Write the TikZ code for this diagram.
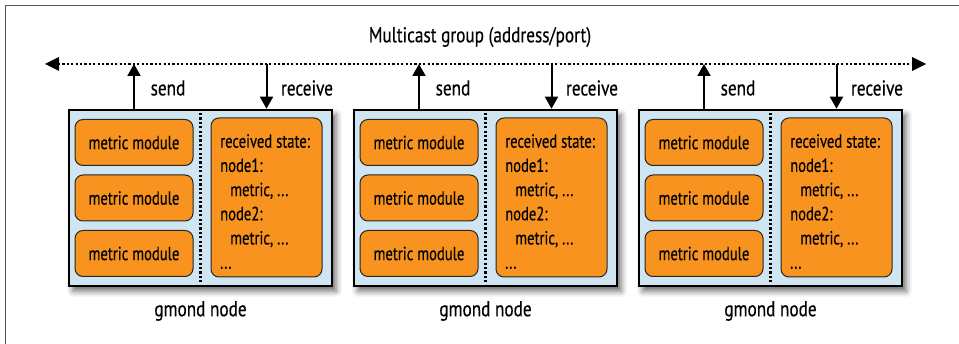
\documentclass[tikz,border=0pt]{standalone}
\usepackage{fontspec}
\setmainfont{PT Sans}[FakeStretch=0.77,FakeBold=0.3]
\newfontfamily\lblfont{PT Sans}[FakeStretch=0.8,FakeBold=0.3]
\usetikzlibrary{arrows.meta,shadows.blur}
\definecolor{boxblue}{HTML}{D0E5F2}
\definecolor{modorange}{HTML}{F7931E}
\definecolor{framegray}{HTML}{555555}
\begin{document}
\begin{tikzpicture}[x=1pt,y=-1pt,
  gbox/.style={draw=black, line width=2.6pt, fill=boxblue, minimum width=263pt, minimum height=176pt, inner sep=0pt,
    blur shadow={shadow xshift=4pt, shadow yshift=-5pt, shadow blur radius=6pt, shadow opacity=60}},
  modbox/.style={draw=black!85, line width=1pt, fill=modorange, rounded corners=8pt, minimum width=118pt, minimum height=46pt, inner sep=0pt, font=\fontsize{19}{22}\selectfont},
  statebox/.style={draw=black!85, line width=1pt, fill=modorange, rounded corners=8pt, minimum width=111pt, minimum height=159pt, inner sep=0pt},
  statetext/.style={anchor=north west, align=left, inner sep=0pt, font=\fontsize{19}{24.2}\selectfont},
  lbl/.style={font=\lblfont\fontsize{21.5}{24}\selectfont, inner sep=0pt},
  dotline/.style={line width=2.2pt, dash pattern=on 2.2pt off 2.2pt},
  arr/.style={line width=2pt, -{Triangle[width=13pt,length=12pt]}},
]
\useasboundingbox (0,0) rectangle (959,344);
% frame
\draw[framegray, line width=1.4pt] (5.5,344) -- (5.5,5.5) -- (959,5.5);
% title
\node[lbl] (title) at (480,37) {Multicast group (address/port)};
% multicast line
\coordinate (mleft) at (45,64);
\coordinate (mright) at (926,64);
\draw[dotline] (58,64) -- (913,64);
\fill (mleft) -- (59,57) -- (59,71) -- cycle;
\fill (mright) -- (912,57) -- (912,71) -- cycle;
\foreach \i/\dx in {1/0,2/285,3/570} {
  \begin{scope}[xshift=\dx pt]
    \node[gbox] (g\i) at (200.5,198) {};
    \draw[dotline] (g\i.north) -- (g\i.south);
    \node[modbox] (ma\i) at (134,142.5) {metric module};
    \node[modbox] (mb\i) at (134,198) {metric module};
    \node[modbox] (mc\i) at (134,253.5) {metric module};
    \node[statebox] (s\i) at (266.5,197.5) {};
    \node[statetext] (t\i) at (220,134) {received state:\\node1:\\\hspace*{10pt}metric, ...\\node2:\\\hspace*{10pt}metric, ...\\...};
    \coordinate (up\i) at (134,64);
    \coordinate (dn\i) at (266.5,64);
    \draw[arr] (ma\i.north |- g\i.north) -- (up\i);
    \draw[arr] (dn\i) -- (s\i.north |- g\i.north);
    \node[lbl] (send\i) at (168,88) {send};
    \node[lbl] (recv\i) at (307,88) {receive};
    \node[lbl] (gm\i) at (200.5,311) {gmond node};
  \end{scope}
}
\end{tikzpicture}
\end{document}
